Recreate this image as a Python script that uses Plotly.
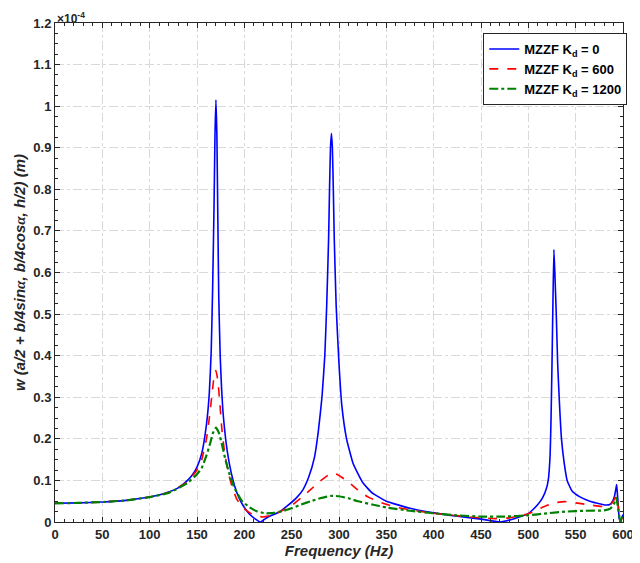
"""
Frequency response of the MZZF plate for three damper stiffness values
"""
import plotly.graph_objs as go

# values in units of 1e-4 m (axis multiplier shown as x10^-4)
freq_kd0 = [0, 25, 50, 75, 100, 110, 120, 130, 140, 145, 150, 155, 160, 163, 165, 166.5, 168, 169, 170,
            171, 172, 173, 174.5, 176, 178, 182, 186, 190, 195, 200, 205, 210, 217, 225, 237, 245, 255,
            262, 268, 274, 278, 282, 285, 287, 289, 290, 291, 292, 293, 294, 295, 297, 300, 303, 308,
            315, 325, 335, 350, 375, 400, 425, 450, 470, 485, 500, 505, 510, 515, 519, 521, 523, 524,
            525, 526, 527, 528, 529.5, 531, 533, 535, 538, 541, 546, 554, 565, 575, 582, 586,
            589, 591, 592.5, 593.3, 594, 595, 596, 597.5, 599, 600]
w_kd0 = [0.045, 0.046, 0.048, 0.052, 0.060, 0.065, 0.072, 0.082, 0.100, 0.113, 0.132, 0.165, 0.235,
         0.310, 0.410, 0.560, 0.760, 0.930, 1.015, 0.930, 0.730, 0.540, 0.400, 0.320, 0.250, 0.170,
         0.120, 0.085, 0.055, 0.035, 0.020, 0.010, 0.000, 0.012, 0.024, 0.038, 0.058, 0.078, 0.108,
         0.155, 0.215, 0.300, 0.400, 0.520, 0.680, 0.800, 0.900, 0.935, 0.900, 0.800, 0.680, 0.520,
         0.380, 0.280, 0.200, 0.140, 0.095, 0.070, 0.050, 0.033, 0.022, 0.014, 0.007, 0.000, 0.008,
         0.020, 0.030, 0.042, 0.058, 0.080, 0.100, 0.160, 0.250, 0.380, 0.530, 0.655, 0.600, 0.500,
         0.380, 0.280, 0.200, 0.140, 0.100, 0.075, 0.061, 0.050, 0.044, 0.041, 0.042, 0.050, 0.062,
         0.080, 0.090, 0.070, 0.040, 0.008, 0.000, 0.012, 0.018]

freq_kd600 = [0, 25, 50, 75, 100, 120, 140, 150, 155, 160, 163, 166, 168, 170, 172, 174, 176, 179,
              183, 187, 192, 198, 205, 212, 220, 228, 237, 250, 260, 270, 280, 290, 295, 300, 310,
              320, 330, 345, 360, 380, 400, 425, 450, 465, 480, 500, 510, 520, 530, 538, 550, 565,
              580, 587, 591, 593, 594, 596, 597.5, 599, 600]
w_kd600 = [0.045, 0.046, 0.048, 0.052, 0.060, 0.071, 0.097, 0.125, 0.150, 0.200, 0.250, 0.310, 0.350,
           0.364, 0.340, 0.290, 0.230, 0.170, 0.120, 0.085, 0.055, 0.036, 0.023, 0.015, 0.012, 0.016,
           0.024, 0.040, 0.058, 0.078, 0.098, 0.115, 0.117, 0.112, 0.096, 0.077, 0.061, 0.046, 0.036,
           0.027, 0.021, 0.015, 0.010, 0.008, 0.010, 0.020, 0.030, 0.040, 0.047, 0.049, 0.046, 0.041,
           0.037, 0.042, 0.055, 0.066, 0.055, 0.018, 0.000, 0.010, 0.015]

freq_kd1200 = [0, 25, 50, 75, 100, 120, 140, 150, 155, 160, 164, 167, 170, 173, 176, 180, 185, 190,
               197, 205, 213, 222, 232, 240, 250, 260, 270, 280, 292, 300, 310, 320, 335, 350, 375,
               400, 425, 450, 475, 500, 520, 540, 560, 580, 587, 591, 593, 594, 596, 597.5, 599, 600]
w_kd1200 = [0.045, 0.046, 0.048, 0.052, 0.060, 0.070, 0.094, 0.115, 0.130, 0.160, 0.190, 0.215,
            0.227, 0.215, 0.190, 0.150, 0.110, 0.080, 0.052, 0.036, 0.026, 0.021, 0.022, 0.026, 0.033,
            0.042, 0.050, 0.057, 0.063, 0.062, 0.057, 0.050, 0.042, 0.035, 0.027, 0.021, 0.016, 0.013,
            0.013, 0.016, 0.021, 0.025, 0.027, 0.028, 0.033, 0.046, 0.058, 0.045, 0.015, 0.000, 0.008,
            0.012]

FONT = 'Arial, Liberation Sans, sans-serif'

fig = go.Figure()

fig.add_trace(go.Scatter(
    x=freq_kd0, y=w_kd0, mode='lines', name='MZZF K<sub>d</sub> = 0',
    line=dict(color='#0000ff', width=1.6, shape='spline', smoothing=0.4)
))
fig.add_trace(go.Scatter(
    x=freq_kd600, y=w_kd600, mode='lines', name='MZZF K<sub>d</sub> = 600',
    line=dict(color='#ff0000', width=1.6, dash='dash', shape='spline', smoothing=0.4)
))
fig.add_trace(go.Scatter(
    x=freq_kd1200, y=w_kd1200, mode='lines', name='MZZF K<sub>d</sub> = 1200',
    line=dict(color='#008000', width=2.2, dash='dashdot', shape='spline', smoothing=0.4)
))

axis_common = dict(
    showline=True, linecolor='#262626', linewidth=1, mirror='ticks',
    ticks='inside', ticklen=5, tickcolor='#262626', automargin=False,
    showgrid=True, gridcolor='#d9d9d9', griddash='dashdot', gridwidth=1,
    zeroline=False,
    tickfont=dict(family=FONT, size=13, color='#262626', weight='bold'),
)

# the page body adds an 8px offset, so the figure is 8px smaller on each axis
fig.update_layout(
    width=632, height=555,
    margin=dict(l=47, r=17, t=15, b=41),
    plot_bgcolor='white', paper_bgcolor='white',
    showlegend=True,
    legend=dict(
        x=0.754, y=0.98, xanchor='left', yanchor='top',
        bgcolor='white', bordercolor='#262626', borderwidth=1,
        font=dict(family=FONT, size=13, color='black', weight='bold'),
        tracegroupgap=4, itemwidth=30
    ),
    xaxis=dict(
        range=[0, 600], tick0=0, dtick=50,
        minor=dict(dtick=10, ticks='inside', ticklen=3, tickcolor='#262626', showgrid=False),
        title=dict(text='Frequency (Hz)', standoff=4,
                   font=dict(family=FONT, size=15, color='#262626', weight='bold', style='italic')),
        **axis_common
    ),
    yaxis=dict(
        range=[0, 1.2], tick0=0, dtick=0.1,
        minor=dict(dtick=0.025, ticks='inside', ticklen=3, tickcolor='#262626', showgrid=False),
        title=dict(text='w (a/2 + b/4sin<span style="font-family:serif">α</span>, '
                        'b/4cos<span style="font-family:serif">α</span>, h/2) (m)', standoff=4,
                   font=dict(family=FONT, size=15, color='#262626', weight='bold', style='italic')),
        **axis_common
    ),
)

fig.add_annotation(
    x=0, y=1, xref='paper', yref='paper', xanchor='left', yanchor='bottom',
    text='×10<sup>-4</sup>', showarrow=False, yshift=-5,
    font=dict(family=FONT, size=12, color='#262626', weight='bold')
)

fig.write_html("out.html")
